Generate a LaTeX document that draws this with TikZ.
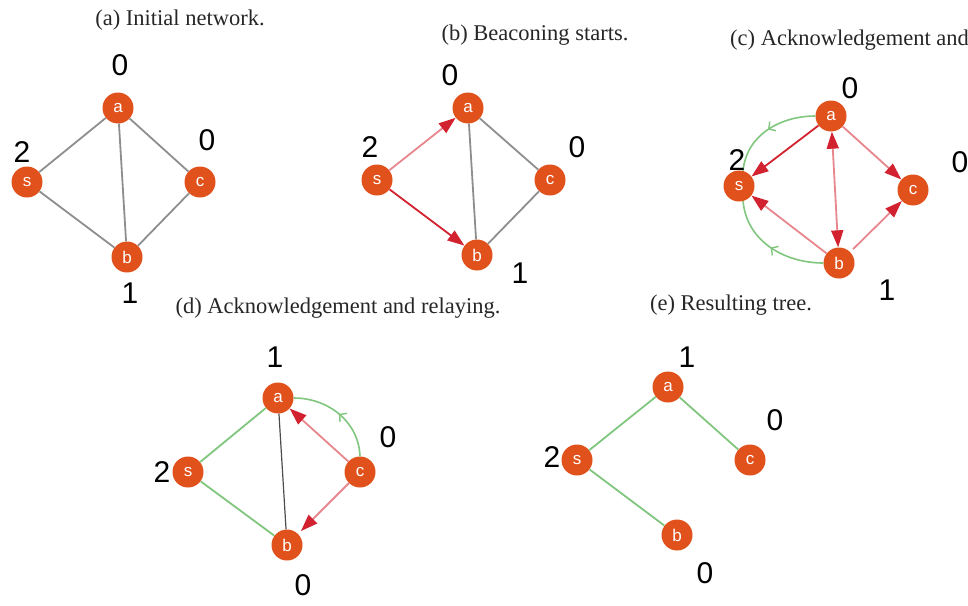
\documentclass[tikz,border=0pt]{standalone}
\usepackage{fontspec}
\setmainfont{Liberation Serif}
\newfontfamily\numfont{Liberation Sans}
\usetikzlibrary{arrows.meta,decorations.markings}
\definecolor{nodeorange}{HTML}{E0511C}
\definecolor{edgegray}{HTML}{8E8E8E}
\definecolor{treegreen}{HTML}{80C67E}
\definecolor{darkred}{HTML}{D3222F}
\definecolor{lightred}{HTML}{E8868D}
\tikzset{
  vtx/.style={circle,fill=nodeorange,minimum size=31pt,inner sep=0pt,
    text=white,font=\numfont\fontsize{17pt}{17pt}\selectfont},
  lvl/.style={font=\numfont\fontsize{30pt}{30pt}\selectfont,inner sep=0pt},
  captxt/.style={font=\fontsize{22.5pt}{22.5pt}\selectfont,inner sep=0pt,text=black!85},
  graylink/.style={draw=edgegray,line width=1.8pt},
  darklink/.style={draw=black!70,line width=1.2pt},
  treelink/.style={draw=treegreen,line width=1.8pt},
  msg/.style={draw=darkred,line width=1.8pt,-{Triangle[length=17pt,width=12pt]}},
  lmsg/.style={draw=lightred,line width=1.8pt,-{Triangle[length=17pt,width=12pt,color=darkred]}},
  bimsg/.style={draw=lightred,line width=1.8pt,
    {Triangle[length=17pt,width=12pt,color=darkred]}-{Triangle[length=17pt,width=12pt,color=darkred]}},
  ack/.style={draw=treegreen,line width=1.6pt,postaction={decorate},
    decoration={markings,mark=at position 0.5 with {\arrow[treegreen,line width=1.4pt]{Straight Barb[length=5pt,width=11pt]}}}}
}
\begin{document}
\begin{tikzpicture}[x=1pt,y=-1pt]
\useasboundingbox (0,0) rectangle (968,605);

% (a) initial network
\node[captxt] (capa) at (180,20) {(a) Initial network.};
\node[vtx] (a1) at (118,108) {a};
\node[vtx] (s1) at (27,182) {s};
\node[vtx] (c1) at (200,182) {c};
\node[vtx] (b1) at (127,257) {b};
\draw[graylink] (s1) -- (a1);
\draw[graylink] (a1) -- (c1);
\draw[graylink] (a1) -- (b1);
\draw[graylink] (s1) -- (b1);
\draw[graylink] (c1) -- (b1);
\node[lvl] (la1) at (120,65) {0};
\node[lvl] (ls1) at (22,152) {2};
\node[lvl] (lc1) at (207,140) {0};
\node[lvl] (lb1) at (130,293) {1};

% (b) beaconing starts
\node[captxt] (capb) at (535,35) {(b) Beaconing starts.};
\node[vtx] (a2) at (468,108) {a};
\node[vtx] (s2) at (377,180) {s};
\node[vtx] (c2) at (550,180) {c};
\node[vtx] (b2) at (477,255) {b};
\draw[graylink] (a2) -- (c2);
\draw[graylink] (a2) -- (b2);
\draw[graylink] (c2) -- (b2);
\draw[lmsg] (s2) -- (a2);
\draw[msg] (s2) -- (b2);
\node[lvl] (la2) at (450,75) {0};
\node[lvl] (ls2) at (370,147) {2};
\node[lvl] (lc2) at (577,147) {0};
\node[lvl] (lb2) at (520,273) {1};

% (c) acknowledgement and relaying
\node[captxt,anchor=west] (capc) at (730,40) {(c) Acknowledgement and};
\node[vtx] (a3) at (831,116) {a};
\node[vtx] (s3) at (739,186) {s};
\node[vtx] (c3) at (913,190) {c};
\node[vtx] (b3) at (839,263) {b};
\draw[ack] (a3.west) to[out=180,in=85] (s3.75);
\draw[ack] (b3.west) to[out=180,in=-85] (s3.-75);
\draw[msg] (a3) -- (s3);
\draw[lmsg] (a3) -- (c3);
\draw[bimsg] (a3) -- (b3);
\draw[lmsg] (b3) -- (s3);
\draw[lmsg,shorten <=4pt] (b3) -- (c3);
\node[lvl] (la3) at (850,88) {0};
\node[lvl] (ls3) at (737,160) {2};
\node[lvl] (lc3) at (960,162) {0};
\node[lvl] (lb3) at (887,290) {1};

% (d) acknowledgement and relaying
\node[captxt] (capd) at (338,308) {(d) Acknowledgement and relaying.};
\node[vtx] (a4) at (278,398) {a};
\node[vtx] (s4) at (188,472) {s};
\node[vtx] (c4) at (360,472) {c};
\node[vtx] (b4) at (287,545) {b};
\draw[treelink] (s4) -- (a4);
\draw[treelink] (s4) -- (b4);
\draw[darklink] (a4) -- (b4);
\draw[ack] (c4.north) to[out=92,in=0] (a4.east);
\draw[lmsg] (c4) -- (a4);
\draw[lmsg,shorten >=4pt] (c4) -- (b4);
\node[lvl] (la4) at (275,357) {1};
\node[lvl] (ls4) at (162,472) {2};
\node[lvl] (lc4) at (388,437) {0};
\node[lvl] (lb4) at (303,585) {0};

% (e) resulting tree
\node[captxt] (cape) at (731,305) {(e) Resulting tree.};
\node[vtx] (a5) at (668,387) {a};
\node[vtx] (s5) at (577,460) {s};
\node[vtx] (c5) at (750,460) {c};
\node[vtx] (b5) at (677,535) {b};
\draw[treelink] (s5) -- (a5);
\draw[treelink] (a5) -- (c5);
\draw[treelink] (s5) -- (b5);
\node[lvl] (la5) at (687,357) {1};
\node[lvl] (ls5) at (552,457) {2};
\node[lvl] (lc5) at (775,420) {0};
\node[lvl] (lb5) at (705,573) {0};
\end{tikzpicture}
\end{document}
